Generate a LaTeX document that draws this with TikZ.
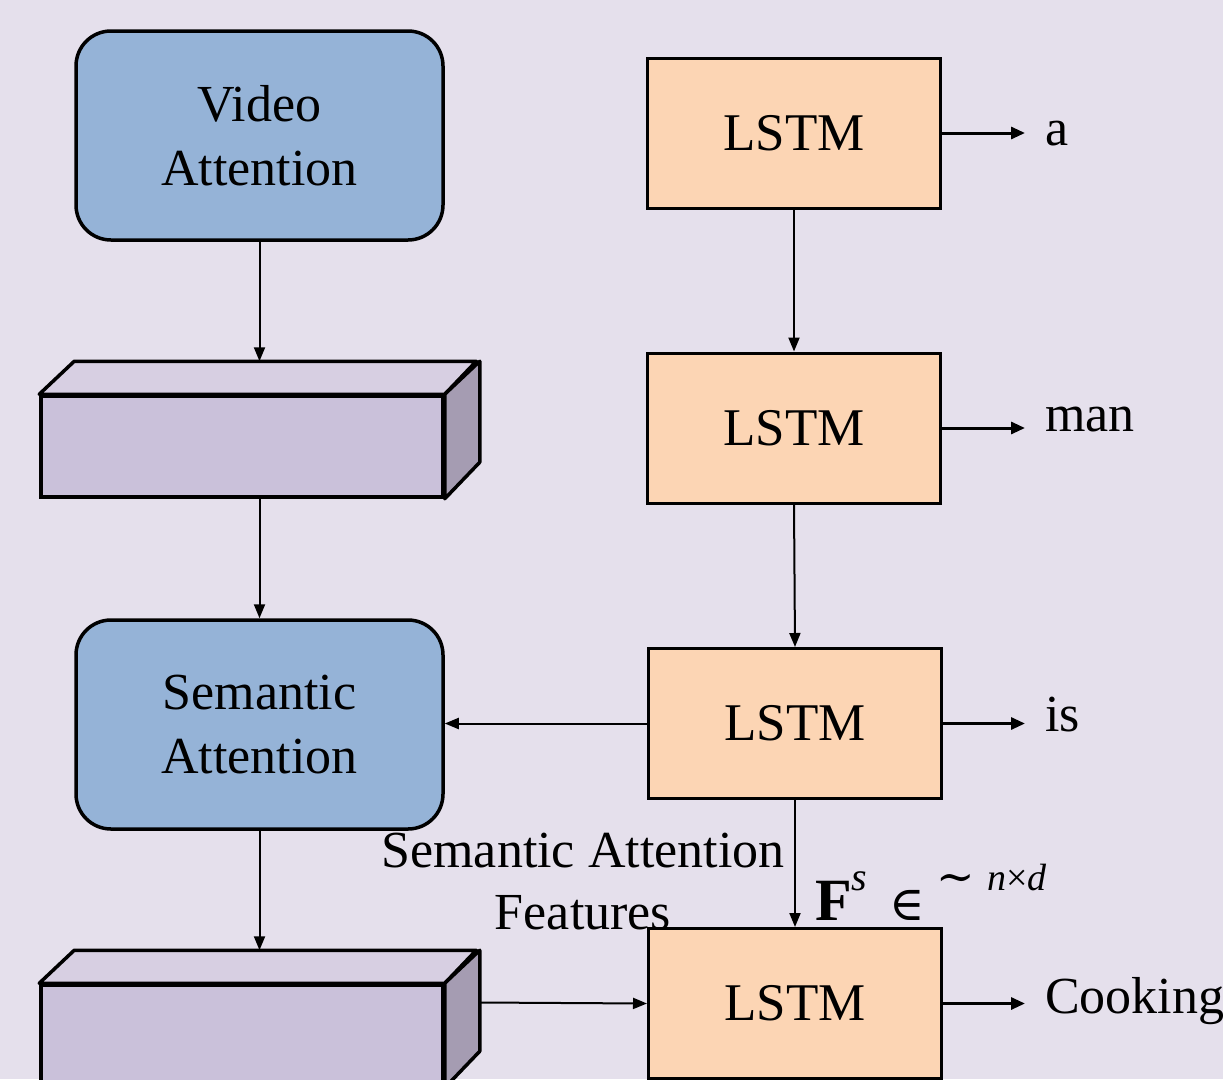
\documentclass[tikz,border=0pt]{standalone}
\usepackage{fontspec}
\setmainfont{Liberation Serif}
\newfontfamily\symfont{DejaVu Serif}
\usetikzlibrary{arrows.meta,calc}

\definecolor{bgc}{HTML}{E5E0EC}
\definecolor{attblue}{HTML}{95B3D7}
\definecolor{lstmor}{HTML}{FCD5B4}
\definecolor{cubefront}{HTML}{CAC1DA}
\definecolor{cubetop}{HTML}{D7CFE2}
\definecolor{cubeside}{HTML}{A59CB2}

\tikzset{
  attbox/.style={draw, line width=3.5pt, fill=attblue, rounded corners=35pt,
    minimum width=367pt, minimum height=209pt, inner sep=0pt, align=center,
    font=\fontsize{52}{64}\selectfont},
  lstmbox/.style={draw, line width=3pt, fill=lstmor,
    minimum width=293pt, minimum height=150pt, inner sep=0pt,
    font=\fontsize{53}{60}\selectfont},
  cubebox/.style={draw, line width=3.5pt, fill=cubefront,
    minimum width=402pt, minimum height=101pt, inner sep=0pt},
  face/.style={draw, line width=3.5pt, line join=round},
  arr/.style={line width=2pt, -{Triangle[length=14pt,width=11pt]}},
  outarr/.style={line width=3pt, -{Triangle[length=14pt,width=12pt]}},
  word/.style={anchor=base west, inner xsep=20pt, inner ysep=0pt,
    font=\fontsize{52}{60}\selectfont},
}

\begin{document}
\begin{tikzpicture}[x=1pt,y=-1pt]
\useasboundingbox (0,0) rectangle (1223,1079);
\clip (0,0) rectangle (1223,1079);
\fill[bgc] (0,0) rectangle (1223,1079);

% attention blocks
\node[attbox] (va) at (259.5,135.5) {Video\\Attention};
\node[attbox] (sa) at (259.5,724.5) {Semantic\\Attention};

% feature cuboids: front face node plus top and side faces
\node[cubebox] (cubeA) at (242,446.5) {};
\filldraw[face, fill=cubetop] (cubeA.north west) -- ++(35,-33) -- ++(402,0) -- (cubeA.north east) -- cycle;
\filldraw[face, fill=cubeside] (cubeA.north east) -- ++(35,-33) -- ++(0,101) -- (cubeA.south east) -- cycle;
\coordinate (cubeAtop) at ($(cubeA.north)+(17.5,-33)$);

\node[cubebox] (cubeB) at (242,1035.5) {};
\filldraw[face, fill=cubetop] (cubeB.north west) -- ++(35,-33) -- ++(402,0) -- (cubeB.north east) -- cycle;
\filldraw[face, fill=cubeside] (cubeB.north east) -- ++(35,-33) -- ++(0,101) -- (cubeB.south east) -- cycle;
\coordinate (cubeBtop) at ($(cubeB.north)+(17.5,-33)$);
\coordinate (cubeBside) at ($(cubeB.east)+(35,-33)$);

% decoder LSTMs
\node[lstmbox] (l1) at (794,133) {LSTM};
\node[lstmbox] (l2) at (794,428) {LSTM};
\node[lstmbox] (l3) at (795,723.5) {LSTM};
\node[lstmbox] (l4) at (795,1003.5) {LSTM};

% output words (inner xsep leaves the gap after each arrow tip)
\node[word] (w1) at (1025,145) {a};
\node[word] (w2) at (1025,431) {man};
\node[word] (w3) at (1025,731) {is};
\node[word] (w4) at (1025,1013) {Cooking};

% labels
\node[align=center, font=\fontsize{52}{62}\selectfont] (salabel) at (583,882) {Semantic Attention\\Features};
\node[anchor=base west, inner sep=0pt] (fs) at (815,920)
  {{\fontsize{60}{60}\selectfont\textbf{F}}%
   \raisebox{30pt}{\fontsize{40}{40}\selectfont\textit{s}}%
   \hspace{22pt}{\symfont\fontsize{48}{48}\selectfont ∈}%
   \hspace{12pt}\raisebox{28pt}{{\symfont\fontsize{46}{46}\selectfont ∼}}%
   \hspace{12pt}\raisebox{30pt}{\fontsize{38}{38}\selectfont\textit{n}×\textit{d}}};

% connectors
\draw[arr] (va.south) -- (cubeAtop);
\draw[arr] (sa.north |- cubeA.south) -- (sa.north);
\draw[arr] (sa.south) -- (cubeBtop);
\draw[arr] (cubeBside) -- (l4.west);
\draw[arr] (l3.west) -- (sa.east |- l3.west);
\draw[arr] (l1.south) -- (l2.north);
\draw[arr] (l2.south) -- (l3.north);
\draw[arr] (l3.south) -- (l4.north);

\draw[outarr] (l1.east) -- (l1.east -| w1.west);
\draw[outarr] (l2.east) -- (l2.east -| w2.west);
\draw[outarr] (l3.east) -- (l3.east -| w3.west);
\draw[outarr] (l4.east) -- (l4.east -| w4.west);
\end{tikzpicture}
\end{document}
